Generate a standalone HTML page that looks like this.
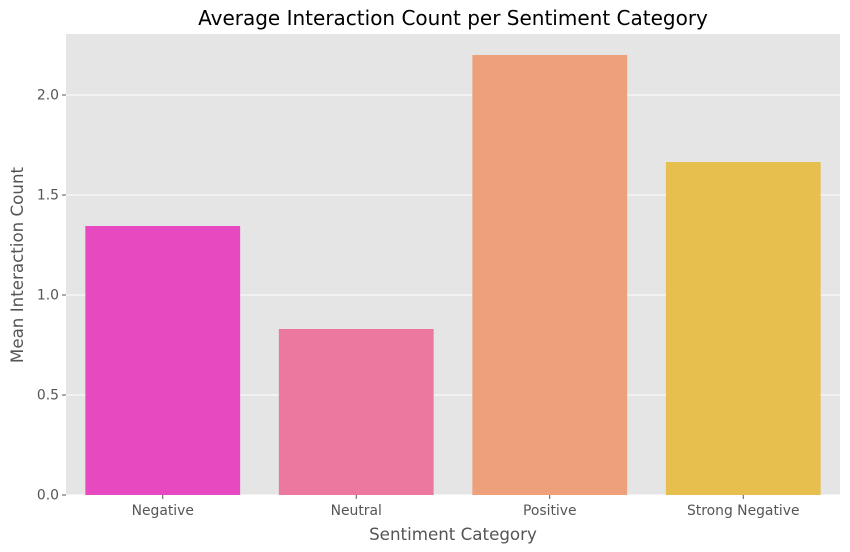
<!DOCTYPE html>
<html><head><meta charset="utf-8"><style>
html,body{margin:0;padding:0;background:#fff;}
svg{display:block;font-family:"DejaVu Sans","Liberation Sans",sans-serif;}
</style></head><body>
<svg id="chart" width="850" height="552" xmlns="http://www.w3.org/2000/svg">
<text x="453" y="25" text-anchor="middle" font-size="20" fill="#000">Average Interaction Count per Sentiment Category</text>
<rect x="66" y="34" width="774" height="461" fill="#e5e5e5"/>
<g id="grid"></g>
<g id="bars"></g>
<g id="yticks"></g>
<g id="xticks"></g>
<text x="453" y="540" text-anchor="middle" font-size="16.7" fill="#555">Sentiment Category</text>
<text transform="translate(23,265) rotate(-90)" text-anchor="middle" font-size="16.7" fill="#555">Mean Interaction Count</text>
</svg>
<script>
const categories = ["Negative","Neutral","Positive","Strong Negative"];
const values = [1.345, 0.83, 2.2, 1.665];
const colors = ["#e649c0","#ec789f","#eea07b","#e7bf4f"];
const yTicks = [0, 0.5, 1.0, 1.5, 2.0];
const yTickLabels = ["0.0","0.5","1.0","1.5","2.0"];

const NS = "http://www.w3.org/2000/svg";
const L = 66, R = 840, T = 34, B = 495, yMax = 2.305;
const band = (R - L) / categories.length;
const xC = i => L + band * (i + 0.5);
const y = v => B - (v / yMax) * (B - T);
function mk(tag, attrs, parent) {
  const e = document.createElementNS(NS, tag);
  for (const k in attrs) e.setAttribute(k, attrs[k]);
  document.getElementById(parent).appendChild(e);
  return e;
}
yTicks.forEach((t, i) => {
  const g = mk("line", {x1: L, x2: R, y1: y(t), y2: y(t), stroke: "#fff", "stroke-width": 1}, "grid");
  
  
  const tk = mk("line", {x1: L - 4, x2: L, y1: y(t), y2: y(t), stroke: "#555"}, "yticks");
  
  
  const lb = mk("text", {x: L - 7, y: y(t) + 4.5, "text-anchor": "end", "font-size": 13.9, fill: "#555"}, "yticks");
  lb.textContent = yTickLabels[i];
  
  
});
categories.forEach((c, i) => {
  const w = band * 0.8;
  const b = mk("rect", {x: xC(i) - w / 2, y: y(values[i]), width: w, height: B - y(values[i]), fill: colors[i]}, "bars");
  
  
  const tk = mk("line", {x1: xC(i), x2: xC(i), y1: B, y2: B + 4, stroke: "#555"}, "xticks");
  
  
  const lb = mk("text", {x: xC(i), y: B + 20, "text-anchor": "middle", "font-size": 13.9, fill: "#555"}, "xticks");
  lb.textContent = c;
  
  
});
</script>
</body></html>
